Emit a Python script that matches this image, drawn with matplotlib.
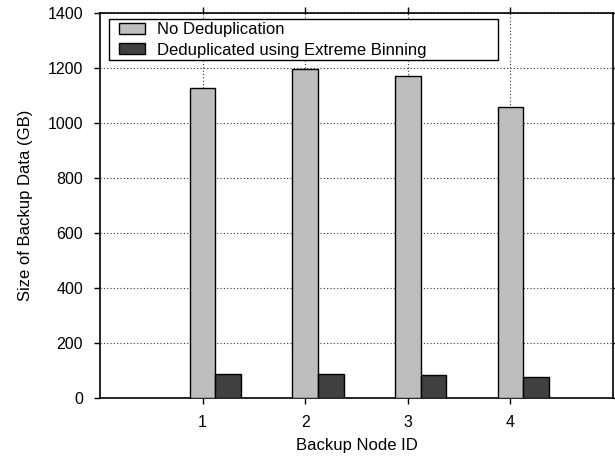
import numpy as np
import matplotlib
matplotlib.use("Agg")
import matplotlib.pyplot as plt
from matplotlib.patches import Rectangle

plt.rcParams['font.family'] = ['Liberation Sans', 'DejaVu Sans']

# backup node ids and sizes (GB)
nodes = [1, 2, 3, 4]
no_dedup = [1124, 1193, 1169, 1055]
dedup_eb = [84, 87, 82, 75]

fig = plt.figure(figsize=(6.15, 4.57), dpi=100)
ax = fig.add_axes([0.1626, 0.130, 0.834, 0.8426])

x = np.array(nodes)
w = 0.25
ax.bar(x, no_dedup, w, color='#bebebe', edgecolor='black', linewidth=1.0,
       label='No Deduplication', zorder=3)
ax.bar(x + w, dedup_eb, w, color='#404040', edgecolor='black', linewidth=1.0,
       label='Deduplicated using Extreme Binning', zorder=3)

ax.set_xlim(0, 5)
ax.set_ylim(0, 1400)
ax.set_xticks(nodes)
ax.set_yticks(np.arange(0, 1401, 200))
ax.tick_params(direction='out', top=True, right=True, length=4.3, width=1,
               labelsize=11.5, pad=8)
ax.grid(True, linestyle=(0, (1, 2)), color='#333333', linewidth=0.8)
ax.set_axisbelow(True)
for s in ax.spines.values():
    s.set_linewidth(1.2)

ax.set_xlabel('Backup Node ID', fontsize=12, labelpad=6)
ax.set_ylabel('Size of Backup Data (GB)', fontsize=12, labelpad=10)

# gnuplot-like key box, wider than its text
ax.add_patch(Rectangle((0.0175, 0.877), 0.7585, 0.106, transform=ax.transAxes,
                       facecolor='white', edgecolor='black', linewidth=1.0,
                       zorder=4))
leg = ax.legend(loc='upper left', bbox_to_anchor=(0.037, 0.975), fontsize=12,
                frameon=False, handlelength=1.56, handleheight=0.64,
                handletextpad=0.72, labelspacing=0.34, borderpad=0,
                borderaxespad=0)
leg.set_zorder(5)

fig.savefig('out.png', dpi=100)
